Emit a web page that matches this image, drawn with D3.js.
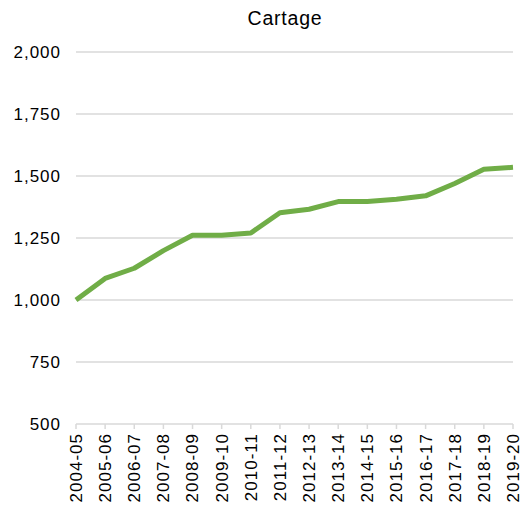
<!DOCTYPE html>
<html><head><meta charset="utf-8">
<script src="https://cdn.jsdelivr.net/npm/d3@7"></script>
<style>body{margin:0;background:#fff;} text{font-family:"Liberation Sans",Arial,sans-serif;fill:#000;}</style>
</head><body><svg id="c" width="524" height="508"></svg>
<script>
const categories = ["2004-05","2005-06","2006-07","2007-08","2008-09","2009-10","2010-11","2011-12","2012-13","2013-14","2014-15","2015-16","2016-17","2017-18","2018-19","2019-20"];
const values = [1000,1087,1128,1199,1261,1261,1270,1352,1366,1397,1397,1406,1420,1470,1527,1535];
const yTicks = [500,750,1000,1250,1500,1750,2000];
const title = "Cartage";

const svg = d3.select("#c");
const m = {l:76, r:11, t:52, b:84};
const W = 524, H = 508;
const x = d3.scalePoint().domain(categories).range([m.l, W - m.r]);
const y = d3.scaleLinear().domain([500,2000]).range([H - m.b, m.t]);

svg.append("text").attr("x", 285).attr("y", 25).attr("text-anchor","middle")
  .style("font-size","19.5px").style("letter-spacing","0.8px").text(title);

const grid = svg.append("g");
grid.selectAll("line").data(yTicks.filter(d=>d>500)).join("line")
  .attr("x1", m.l).attr("x2", W - m.r).attr("y1", d=>y(d)).attr("y2", d=>y(d))
  .attr("stroke","#d9d9d9").attr("stroke-width",1.5);

const fmt = d3.format(",");
svg.append("g").selectAll("text").data(yTicks).join("text")
  .attr("x", 61).attr("y", d=>y(d)).attr("dy","0.35em").attr("text-anchor","end")
  .style("font-size","17px").style("letter-spacing","1px").text(d=>fmt(d));

const xa = svg.append("g").attr("transform", `translate(0,${y(500)})`);
xa.append("line").attr("x1", m.l).attr("x2", W - m.r).attr("stroke","#d9d9d9").attr("stroke-width",1.5);
xa.selectAll("line.t").data(categories).join("line").attr("class","t")
  .attr("x1", d=>x(d)).attr("x2", d=>x(d)).attr("y1",0).attr("y2",5)
  .attr("stroke","#d9d9d9").attr("stroke-width",1.5);
xa.selectAll("text").data(categories).join("text")
  .attr("transform", d=>`translate(${x(d)},9) rotate(-90)`)
  .attr("text-anchor","end").attr("dy","0.35em")
  .style("font-size","17px").style("letter-spacing","1px").text(d=>d);

const line = d3.line().x((d,i)=>x(categories[i])).y(d=>y(d));
svg.append("path").datum(values).attr("d", line)
  .attr("fill","none").attr("stroke","#70AD47").attr("stroke-width",5)
  .attr("stroke-linejoin","round").attr("stroke-linecap","butt");
</script></body></html>
